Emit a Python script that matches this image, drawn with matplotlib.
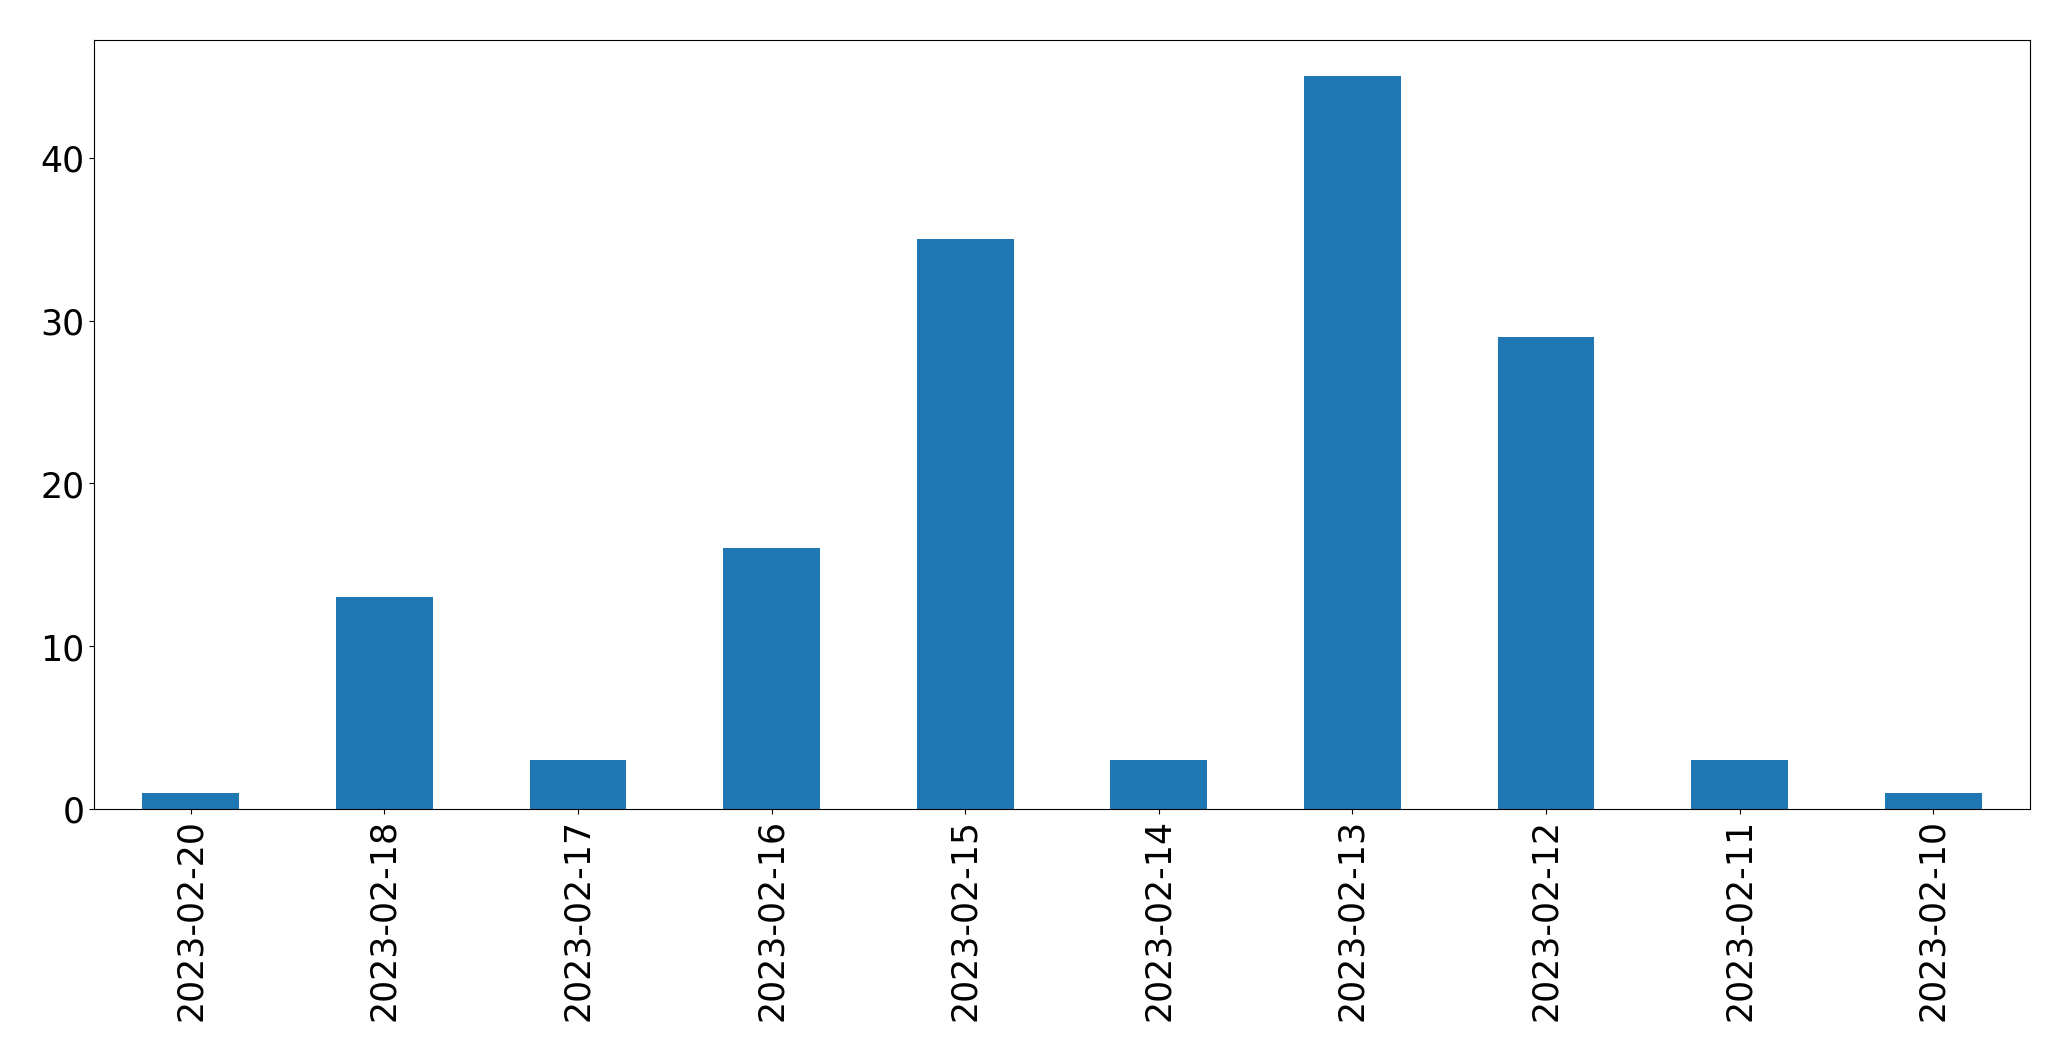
import matplotlib
matplotlib.use("Agg")
import matplotlib.pyplot as plt
import pandas as pd

dates = ["2023-02-20", "2023-02-18", "2023-02-17", "2023-02-16", "2023-02-15",
         "2023-02-14", "2023-02-13", "2023-02-12", "2023-02-11", "2023-02-10"]
counts = [1, 13, 3, 16, 35, 3, 45, 29, 3, 1]

s = pd.Series(counts, index=dates)

fig = plt.figure(figsize=(20.715, 10.615), dpi=100)
ax = fig.add_axes([0.0454, 0.2375, 0.9346, 0.7245])
s.plot(kind="bar", ax=ax, color="#1f77b4")
ax.tick_params(axis="both", labelsize=25)
fig.savefig("out.png", dpi=100)
